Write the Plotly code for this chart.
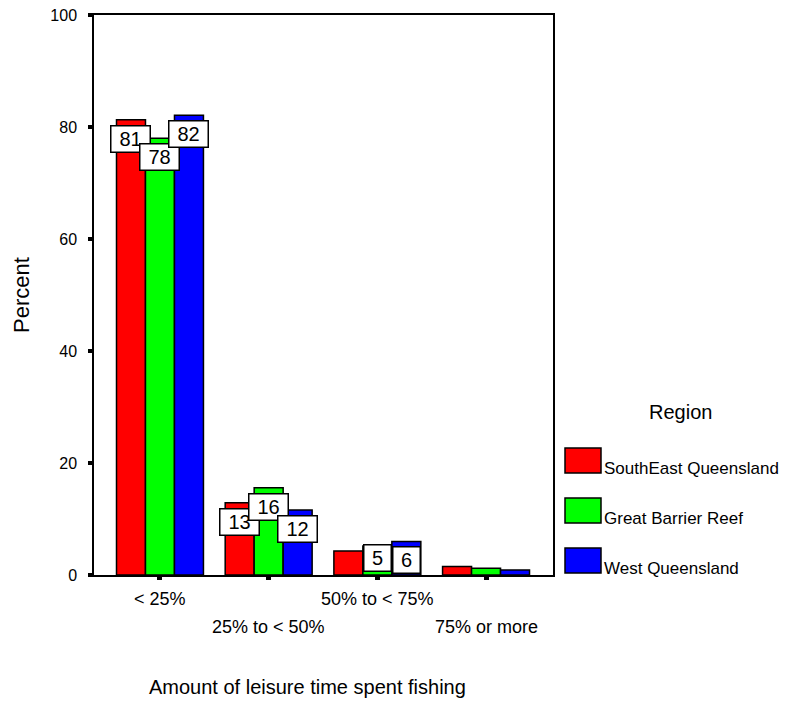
import plotly.graph_objects as go

# ---- data ----
categories = ["< 25%", "25% to < 50%", "50% to < 75%", "75% or more"]
series_names = ["SouthEast Queensland", "Great Barrier Reef", "West Queensland"]
seq_values = [81.3, 12.9, 4.3, 1.5]
gbr_values = [78.0, 15.6, 5.2, 1.2]
wq_values = [82.1, 11.6, 6.0, 0.9]
seq_labels = ["81", "13", None, None]
gbr_labels = ["78", "16", "5", None]
wq_labels = ["82", "12", "6", None]
y_ticks = [0, 20, 40, 60, 80, 100]

series_values = [seq_values, gbr_values, wq_values]
series_labels = [seq_labels, gbr_labels, wq_labels]
colors = ["#FF0000", "#00FF00", "#0000FF"]

FONT = "Liberation Sans, Arial, sans-serif"

# page has an 8px body margin; work in page pixels and shift
OFF = 8
W, H = 795 - OFF, 706 - OFF
L, R, T, B = 94, 553, 15, 575   # plot area in page pixels
pw, ph = R - L, B - T


def px(x):
    return (x - L) / pw


def py(y):
    return (B - y) / ph


fig = go.Figure()
for name, vals, col in zip(series_names, series_values, colors):
    fig.add_trace(go.Bar(
        x=categories, y=vals, name=name,
        marker=dict(color=col, line=dict(color="black", width=1.5)),
        showlegend=False,
    ))

annotations = []
bar_w = 0.8 / 3
px_per_unit = ph / 100.0
for si, labels in enumerate(series_labels):
    off = (si - 1) * bar_w
    for ci, lab in enumerate(labels):
        if lab is None:
            continue
        v = series_values[si][ci]
        box_w = 12 * len(lab) + 14
        box_h = 25
        if v * px_per_unit < box_h + 8:
            y, yanchor, yshift = 0, "bottom", 3
        else:
            y, yanchor, yshift = v, "top", -5
        annotations.append(dict(
            x=ci + off, y=y, xref="x", yref="y", text=lab, showarrow=False,
            xanchor="center", yanchor=yanchor, yshift=yshift,
            width=box_w, height=box_h, valign="middle",
            bgcolor="white", bordercolor="black", borderwidth=1.5, borderpad=0,
            font=dict(family=FONT, size=20, color="black"),
        ))

# staggered category labels
for ci, cat in enumerate(categories):
    ypix = 599 if ci % 2 == 0 else 627
    annotations.append(dict(
        x=ci, y=py(ypix), xref="x", yref="paper", text=cat, showarrow=False,
        xanchor="center", yanchor="middle",
        font=dict(family=FONT, size=18, color="black"),
    ))

# axis titles
annotations.append(dict(
    x=px(307), y=py(687), xref="paper", yref="paper",
    text="Amount of leisure time spent fishing", showarrow=False,
    xanchor="center", yanchor="middle",
    font=dict(family=FONT, size=20, color="black"),
))
annotations.append(dict(
    x=px(21), y=py(295), xref="paper", yref="paper",
    text="Percent", showarrow=False, textangle=-90,
    xanchor="center", yanchor="middle",
    font=dict(family=FONT, size=22, color="black"),
))

# legend (drawn manually)
annotations.append(dict(
    x=px(680), y=py(412), xref="paper", yref="paper", text="Region",
    showarrow=False, xanchor="center", yanchor="middle",
    font=dict(family=FONT, size=20, color="black"),
))
shapes = []
for i, (name, col) in enumerate(zip(series_names, colors)):
    top = 448 + 50 * i
    shapes.append(dict(
        type="rect", xref="paper", yref="paper",
        x0=px(565), x1=px(601), y0=py(top), y1=py(top + 25),
        fillcolor=col, line=dict(color="black", width=1.5),
    ))
    annotations.append(dict(
        x=px(602), y=py(top + 20), xref="paper", yref="paper", text=name,
        showarrow=False, xanchor="left", yanchor="middle",
        font=dict(family=FONT, size=17, color="black"),
    ))

fig.update_layout(
    width=W, height=H,
    margin=dict(l=L - OFF, r=W - (R - OFF), t=T - OFF, b=H - (B - OFF),
                autoexpand=False),
    paper_bgcolor="white", plot_bgcolor="white",
    barmode="group", bargap=0.2, bargroupgap=0,
    font=dict(family=FONT, size=16, color="black"),
    annotations=annotations, shapes=shapes,
    showlegend=False,
)
fig.update_xaxes(
    type="category", range=[-0.607, 3.616], automargin=False,
    showline=True, linecolor="black", linewidth=1.5, mirror=True,
    ticks="outside", ticklen=3, tickwidth=5, tickcolor="black",
    showticklabels=False, showgrid=False, zeroline=False,
)
fig.update_yaxes(
    range=[0, 100], tickmode="array", tickvals=y_ticks, automargin=False,
    ticktext=[str(t) for t in y_ticks], ticklabeloverflow="allow",
    showline=True, linecolor="black", linewidth=1.5, mirror=True,
    ticks="outside", ticklen=4, tickwidth=4, tickcolor="black",
    ticklabelstandoff=8,
    tickfont=dict(family=FONT, size=16, color="black"),
    showgrid=False, zeroline=False,
)

fig.write_html("out.html")
